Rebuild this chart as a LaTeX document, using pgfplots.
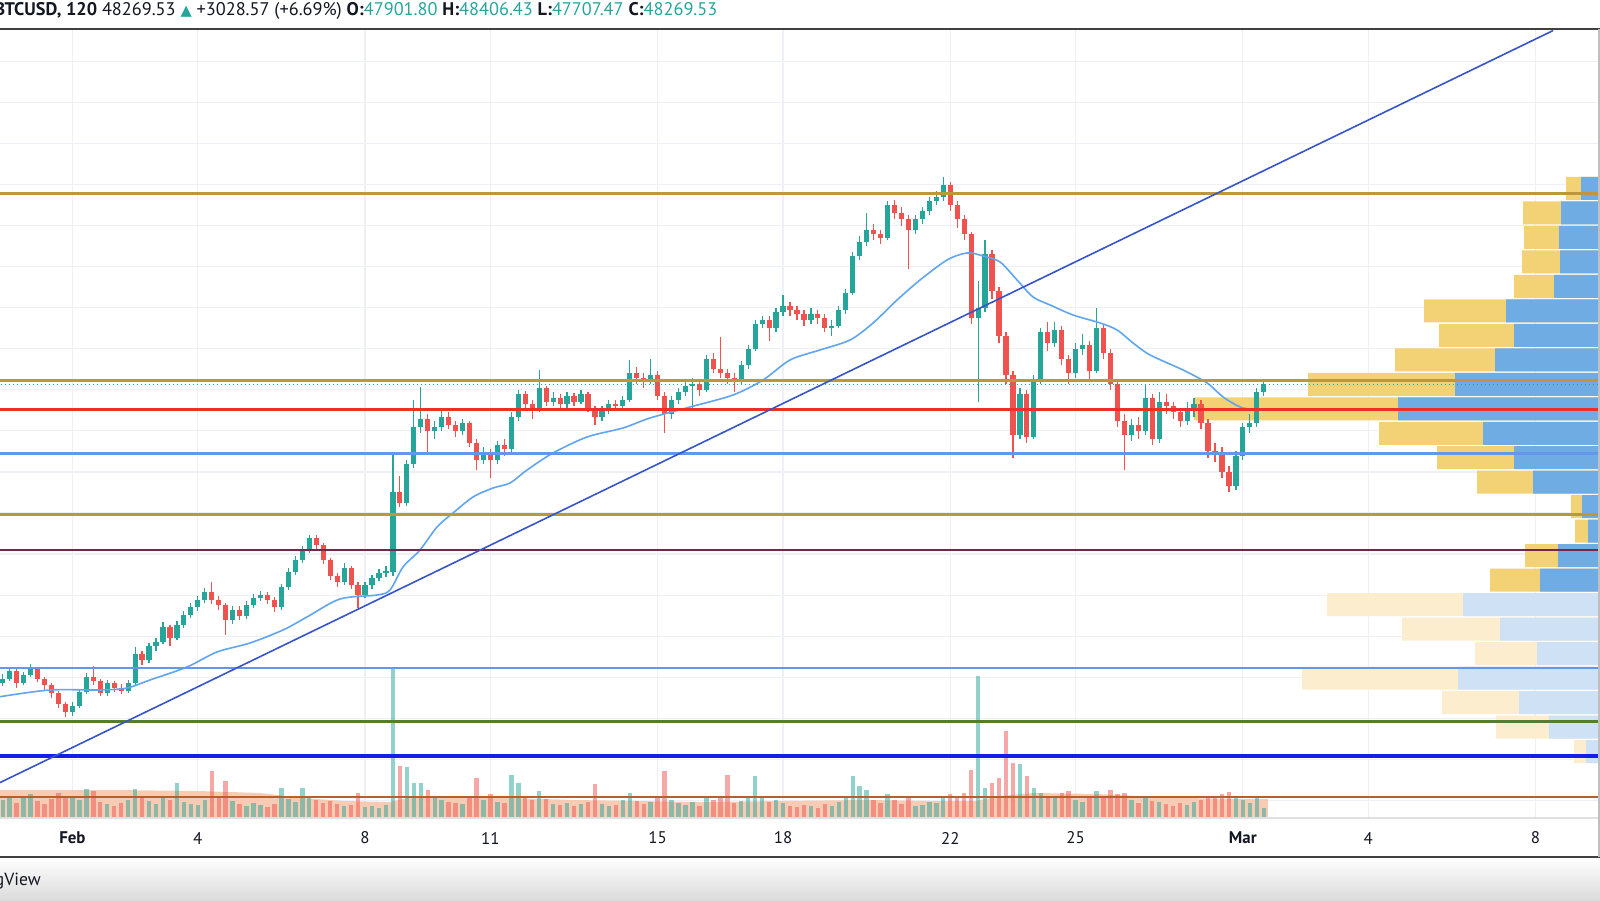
\documentclass[border=0pt]{standalone}
\usepackage{fontspec}
\setmainfont{PT Sans}
\newfontfamily\symfont{DejaVu Sans}
\usepackage{pgfplots}
\usepackage{pgfplotstable}
\pgfplotsset{compat=1.18}

\definecolor{upc}{HTML}{26A69A}
\definecolor{dnc}{HTML}{EF5350}
\definecolor{txt}{HTML}{131722}
\definecolor{gold}{RGB}{190,150,60}
\definecolor{hlred}{RGB}{240,45,40}
\definecolor{lblue}{RGB}{100,150,235}
\definecolor{maroonl}{RGB}{115,40,75}
\definecolor{olivel}{RGB}{85,125,50}
\definecolor{dblue}{RGB}{20,30,235}
\definecolor{brownl}{RGB}{185,95,40}
\definecolor{trend}{RGB}{55,85,200}
\definecolor{mac}{RGB}{95,165,240}
\definecolor{vpy}{RGB}{243,209,117}
\definecolor{vpb}{RGB}{111,172,228}
\definecolor{vpyf}{RGB}{251,237,206}
\definecolor{vpbf}{RGB}{207,226,245}
\definecolor{volma}{RGB}{247,196,168}
\definecolor{gridc}{RGB}{238,240,245}

% 4h candles, t = days since Feb 1 (UTC)
\pgfplotstableread{
t o h l c v
-1.667 33700 34150 33550 33900 18
-1.500 33900 34500 33800 34300 22
-1.333 34300 34400 33500 33700 15
-1.167 33700 34250 33600 34100 20
-1.000 34100 34650 34000 34400 24
-0.833 34400 34500 33750 33900 17
-0.667 33900 34000 33400 33600 14
-0.500 33600 33700 33000 33250 19
-0.333 33250 33350 32500 32700 25
-0.167 32700 32800 32050 32300 22
0.000 32300 32800 32100 32600 20
0.167 32600 33450 32500 33300 18
0.333 33300 34200 33200 34000 29
0.500 34000 34550 33600 33800 27
0.667 33800 33900 33100 33250 16
0.833 33250 33850 33100 33700 14
1.000 33700 33800 33300 33500 12
1.167 33500 33650 33200 33350 15
1.333 33350 33850 33250 33700 18
1.500 33700 35470 33600 35150 29
1.667 35150 35300 34600 34850 22
1.833 34850 35650 34700 35500 17
2.000 35500 35900 35300 35700 14
2.167 35700 36700 35600 36450 20
2.333 36450 36550 35500 35900 18
2.500 35900 36750 35800 36550 35
2.667 36550 37250 36400 37050 16
2.833 37050 37600 36900 37400 14
3.000 37400 37950 37250 37750 13
3.167 37750 38350 37600 38150 18
3.333 38150 38650 37550 37750 47
3.500 37750 37950 37300 37500 20
3.667 37500 37600 36050 36800 37
3.833 36800 37450 36600 37300 17
4.000 37300 37450 36800 37000 14
4.167 37000 37700 36850 37500 12
4.333 37500 38050 37350 37850 15
4.500 37850 38200 37700 38000 13
4.667 38000 38150 37550 37750 11
4.833 37750 37900 37200 37400 14
5.000 37400 38550 37300 38400 30
5.167 38400 39300 38250 39150 19
5.333 39150 39900 39000 39700 16
5.500 39700 40400 39550 40200 30
5.667 40200 40950 40050 40800 22
5.833 40800 40950 40200 40450 18
6.000 40450 40550 39500 39700 15
6.167 39700 39800 38750 38950 17
6.333 38950 39100 38400 38650 14
6.500 38650 39550 38500 39300 12
6.667 39300 39400 38300 38500 13
6.833 38500 38650 37370 38000 25
7.000 38000 38650 37850 38500 11
7.167 38500 39000 38300 38850 12
7.333 38850 39250 38700 39100 10
7.500 39100 39400 38900 39150 13
7.667 39150 44830 38950 43000 150
7.833 43000 43800 42300 42500 52
8.000 42500 44600 42350 44400 51
8.167 44400 47500 44200 46200 35
8.333 46200 48150 45900 46600 35
8.500 46600 46800 44900 46000 28
8.667 46000 46500 45600 46200 20
8.833 46200 47000 46000 46700 18
9.000 46700 46900 46100 46300 16
9.167 46300 46500 45700 46000 15
9.333 46000 46600 45800 46400 14
9.500 46400 46500 45200 45400 22
9.667 45400 45600 44100 44600 40
9.833 44600 45200 44400 44900 18
10.000 44900 45100 43700 44600 24
10.167 44600 45500 44400 45300 16
10.333 45300 45600 44800 45100 15
10.500 45100 46900 44950 46700 43
10.667 46700 48000 46500 47800 35
10.833 47800 47950 47000 47300 20
11.000 47300 47500 46600 47000 18
11.167 47000 48950 46900 48100 27
11.333 48100 48200 47200 47400 19
11.500 47400 47900 47200 47600 14
11.667 47600 47800 47000 47300 13
11.833 47300 47900 47100 47700 15
12.000 47700 47850 47200 47400 12
12.167 47400 48000 47300 47800 14
12.333 47800 47900 46900 47100 16
12.500 47100 47200 46300 46700 34
12.667 46700 47200 46500 47000 14
12.833 47000 47500 46800 47300 12
13.000 47300 47500 47000 47200 13
13.167 47200 47700 47000 47500 18
13.333 47500 49450 47400 48800 25
13.500 48800 49100 48300 48600 17
13.667 48600 48800 48100 48400 14
13.833 48400 49500 48300 48700 16
14.000 48700 48900 47500 47700 20
14.167 47700 47900 45900 46800 47
14.333 46800 47700 46600 47500 18
14.500 47500 48100 47300 47900 15
14.667 47900 48400 47700 48200 13
14.833 48200 48600 47000 48300 16
15.000 48300 48500 47700 48000 12
15.167 48000 49700 47900 49500 22
15.333 49500 49800 48800 49000 18
15.500 49000 50570 48600 48800 20
15.667 48800 49000 48300 48600 43
15.833 48600 48800 47900 48500 15
16.000 48500 49400 48300 49200 17
16.167 49200 50200 49000 50000 22
16.333 50000 51400 49900 51200 42
16.500 51200 51600 51000 51400 20
16.667 51400 51600 50400 51000 16
16.833 51000 52000 50800 51800 18
17.000 51800 52620 51600 52100 15
17.167 52100 52300 51600 51900 12
17.333 51900 52100 51400 51700 11
17.500 51700 51900 51100 51400 13
17.667 51400 52000 51200 51700 12
17.833 51700 51900 51200 51500 10
18.000 51500 51700 50800 51000 14
18.167 51000 51400 50600 51100 12
18.333 51100 52100 51000 51900 16
18.500 51900 52900 51700 52700 20
18.667 52700 54700 52600 54500 42
18.833 54500 55500 54300 55200 32
19.000 55200 56600 55000 55800 28
19.167 55800 56100 55300 55600 18
19.333 55600 55800 55100 55400 15
19.500 55400 57200 55300 57000 24
19.667 57000 57250 56300 56600 18
19.833 56600 56900 56000 56300 14
20.000 56300 56500 53900 55800 20
20.167 55800 56500 55600 56300 12
20.333 56300 56900 56100 56700 13
20.500 56700 57400 56500 57200 16
20.667 57200 57700 57000 57400 15
20.833 57400 58350 57200 58000 22
21.000 58000 58100 56700 57000 24
21.167 57000 57200 55900 56300 20
21.333 56300 56500 55300 55600 25
21.500 55600 55700 51200 51500 48
21.667 51500 53300 47400 52000 142
21.833 52000 55300 51800 54600 30
22.000 54600 54800 52400 52800 35
22.167 52800 53000 50300 50600 40
22.333 50600 50800 48300 48700 87
22.500 48700 48900 44700 45800 55
22.667 45800 48100 45600 47800 54
22.833 47800 48000 45400 45700 42
23.000 45700 48700 45600 48500 30
23.167 48500 51000 48300 50800 25
23.333 50800 51300 49900 50300 22
23.500 50300 51300 50100 50900 20
23.667 50900 51100 49200 49500 25
23.833 49500 49700 48300 48800 27
24.000 48800 50300 48600 50000 18
24.167 50000 50700 49700 50200 16
24.333 50200 50400 48500 48900 22
24.500 48900 52000 48800 51000 27
24.667 51000 51200 49500 49800 20
24.833 49800 50000 48000 48300 28
25.000 48300 48400 46200 46500 24
25.167 46500 46800 44100 45800 25
25.333 45800 46600 45500 46300 18
25.500 46300 46700 45600 46000 15
25.667 46000 48300 45800 47600 20
25.833 47600 47800 45300 45600 17
26.000 45600 47900 45400 47400 16
26.167 47400 47800 46800 47200 14
26.333 47200 47400 46600 46900 12
26.500 46900 47100 46200 46500 15
26.667 46500 47400 46300 47000 13
26.833 47000 47600 46700 47300 16
27.000 47300 47500 46100 46400 18
27.167 46400 46600 44700 45000 22
27.333 45000 45400 44500 44900 20
27.500 44900 45200 43700 44000 24
27.667 44000 44300 43040 43300 26
27.833 43300 45000 43100 44800 20
28.000 44800 46400 44600 46200 18
28.167 46200 46800 45900 46400 15
28.333 46400 48100 46200 47900 22
28.500 47900 48406 47707 48270 10
}\candles

\pgfplotsset{pane/.style={at={(0mm,20.5mm)}, anchor=south west, scale only axis,
  width=399.75mm, height=197.25mm, xmin=-1.732, xmax=36.52}}

\begin{document}
\begin{tikzpicture}
\useasboundingbox (0mm,0mm) rectangle (400mm,225mm);
\clip (0mm,0mm) rectangle (400mm,225mm);
\begin{scope}[x=0.25mm,y=0.25mm]
\fill[white] (0,0) rectangle (1600,900);
\shade[top color=white, bottom color=black!14] (0,0) rectangle (1600,43);
\end{scope}

% grid and date labels
\begin{axis}[pane, ymin=27144, ymax=65576, axis line style={draw=none},
  xtick={0,3,7,10,14,17,21,24,28,31,35},
  xticklabels={\textbf{Feb},4,8,11,15,18,22,25,\textbf{Mar},4,8},
  ytick={28000,30000,...,64000}, yticklabels={}, scaled y ticks=false,
  major tick length=0pt, grid=major, grid style={gridc, line width=0.3mm},
  xticklabel style={font=\fontsize{12}{14}\selectfont, text=txt, anchor=center, yshift=-5mm}]
\addplot[draw=none] coordinates {(0,30000)};
\end{axis}

% volume
\begin{axis}[pane, ymin=0, ymax=789, hide axis]
\addplot[fill=volma, draw=none, fill opacity=0.85] coordinates {(-1.75,28) (1,28) (3,27) (4.5,25) (5.5,20) (6.5,17) (7.6,16) (8,20) (9,22) (10.5,20) (12,18) (13.5,17) (15,16) (17,17) (19,18) (20.5,17) (21.6,17) (22.2,22) (23,25) (24.5,24) (26,21) (27.5,19) (28.6,19)} \closedcycle;
\addplot[ycomb, draw=upc, draw opacity=0.5, line width=1.1mm] table[x=t, y expr={\thisrow{c}>=\thisrow{o} ? \thisrow{v} : nan}] {\candles};
\addplot[ycomb, draw=dnc, draw opacity=0.5, line width=1.1mm] table[x=t, y expr={\thisrow{c}>=\thisrow{o} ? nan : \thisrow{v}}] {\candles};
\end{axis}

% visible range volume profile
\begin{axis}[at={(0mm,20.5mm)}, anchor=south west, scale only axis, width=399.75mm, height=197.25mm,
  xmin=0, xmax=1599, x dir=reverse, ymin=27144, ymax=65576, hide axis]
\addplot[xbar, bar shift=0pt, bar width=1120, fill=vpy, draw=none] coordinates {
(33,57807) (76,56615) (75,55423) (77,54230) (85,53038) (175,51846) (160,50653) (204,49461)
(291,48269) (405,47076) (220,45884) (162,44692) (122,43499) (28,42307) (24,41115) (74,39922) (109,38730)};
\addplot[xbar, bar shift=0pt, bar width=1120, fill=vpb, draw=none] coordinates {
(18,57807) (38,56615) (40,55423) (39,54230) (45,53038) (93,51846) (85,50653) (104,49461)
(144,48269) (201,47076) (116,45884) (85,44692) (66,43499) (17,42307) (11,41115) (41,39922) (59,38730)};
\addplot[xbar, bar shift=0pt, bar width=1120, fill=vpyf, draw=none] coordinates {
(272,37537) (197,36345) (124,35152) (297,33960) (157,32768) (103,31575) (25,30383)};
\addplot[xbar, bar shift=0pt, bar width=1120, fill=vpbf, draw=none] coordinates {
(136,37537) (99,36345) (62,35152) (141,33960) (80,32768) (50,31575) (13,30383)};
\end{axis}

% candles, moving average, drawn levels
\begin{axis}[pane, ymin=27144, ymax=65576, hide axis]
\addplot[draw=none, mark=none, error bars/.cd, y dir=both, y explicit, error mark=none,
  error bar style={line width=0.3mm, draw=upc}]
  table[x=t, y expr={\thisrow{c}>=\thisrow{o} ? (\thisrow{h}+\thisrow{l})/2 : nan},
  y error expr={(\thisrow{h}-\thisrow{l})/2}] {\candles};
\addplot[draw=none, mark=none, error bars/.cd, y dir=both, y explicit, error mark=none,
  error bar style={line width=0.3mm, draw=dnc}]
  table[x=t, y expr={\thisrow{c}>=\thisrow{o} ? nan : (\thisrow{h}+\thisrow{l})/2},
  y error expr={(\thisrow{h}-\thisrow{l})/2}] {\candles};
\addplot[draw=none, mark=none, error bars/.cd, y dir=both, y explicit, error mark=none,
  error bar style={line width=1.3mm, draw=upc}]
  table[x=t, y expr={\thisrow{c}>=\thisrow{o} ? (\thisrow{o}+\thisrow{c})/2 : nan},
  y error expr={max(abs(\thisrow{c}-\thisrow{o})/2,30)}] {\candles};
\addplot[draw=none, mark=none, error bars/.cd, y dir=both, y explicit, error mark=none,
  error bar style={line width=1.3mm, draw=dnc}]
  table[x=t, y expr={\thisrow{c}>=\thisrow{o} ? nan : (\thisrow{o}+\thisrow{c})/2},
  y error expr={max(abs(\thisrow{c}-\thisrow{o})/2,30)}] {\candles};
% moving average
\addplot[mac, line width=0.4mm, smooth] coordinates {
(-1.732,33053) (-0.536,33379) (0.660,33379) (1.306,33477) (1.856,33866) (2.742,34500)
(3.459,35230) (4.249,35668) (5.038,36302) (5.612,36935) (6.402,37812) (7.287,38006)
(7.598,38250) (7.909,39370) (8.316,40199) (8.722,41319) (9.105,42001) (9.584,42780)
(10.062,43218) (10.469,43462) (10.876,44096) (11.498,44924) (12.311,45703) (13.172,46142)
(13.818,46628) (14.775,47164) (15.804,47749) (16.522,48480) (17.167,49454) (17.885,49941)
(18.603,50428) (19.153,51256) (19.727,52376) (20.278,53350) (20.923,54324) (21.402,54665)
(21.785,54519) (22.191,54227) (22.598,53350) (22.981,52522) (23.388,52132) (23.938,51645)
(24.584,51256) (24.990,50915) (25.373,50282) (25.780,49697) (26.569,48966) (27.144,48333)
(27.526,47651) (27.933,47164) (28.292,47018)};
% horizontal levels
\addplot[gold, line width=0.65mm] coordinates {(-2,57573) (37,57573)};
\addplot[gold, line width=0.65mm] coordinates {(-2,48465) (37,48465)};
\addplot[upc, line width=0.3mm, dash pattern=on 0.3mm off 0.7mm] coordinates {(-2,48270) (37,48270)};
\addplot[hlred, line width=0.65mm] coordinates {(-2,47052) (37,47052)};
\addplot[lblue, line width=0.65mm] coordinates {(-2,44909) (37,44909)};
\addplot[gold, line width=0.65mm] coordinates {(-2,41918) (37,41918)};
\addplot[maroonl, line width=0.7mm] coordinates {(-2,40199) (37,40199)};
\addplot[lblue, line width=0.65mm] coordinates {(-2,34451) (37,34451)};
\addplot[olivel, line width=0.7mm] coordinates {(-2,31835) (37,31835)};
\addplot[dblue, line width=0.9mm] coordinates {(-2,30165) (37,30165)};
\addplot[brownl, line width=0.7mm] coordinates {(-2,28168) (37,28168)};
% trend line
\addplot[trend, line width=0.4mm] coordinates {(-1.732,28869) (35.42,65499)};
\end{axis}

\begin{scope}[x=0.25mm,y=0.25mm]
% frame
\draw[black!12, line width=0.5mm] (0,82) -- (1600,82);
\draw[black!75, line width=0.5mm] (0,871) -- (1600,871);
\draw[black!75, line width=0.5mm] (0,43) -- (1600,43);
\draw[black!25, line width=0.4mm] (1599,43) -- (1599,871);
% header
\node[anchor=west, inner sep=0pt, text=txt, font=\fontsize{13}{15}\selectfont] at (-6,889)
  {\textbf{BTCUSD, 120}\ 48269.53 {\symfont\color{upc}\scalebox{0.8}{▲}} +3028.57 (+6.69\%)
   \textbf{O:}\textcolor{upc}{47901.80} \textbf{H:}\textcolor{upc}{48406.43}
   \textbf{L:}\textcolor{upc}{47707.47} \textbf{C:}\textcolor{upc}{48269.53}};
\node[anchor=east, inner sep=0pt, text=txt, font=\fontsize{12.5}{14}\selectfont] at (41,19) {TradingView};
\end{scope}
\end{tikzpicture}
\end{document}
